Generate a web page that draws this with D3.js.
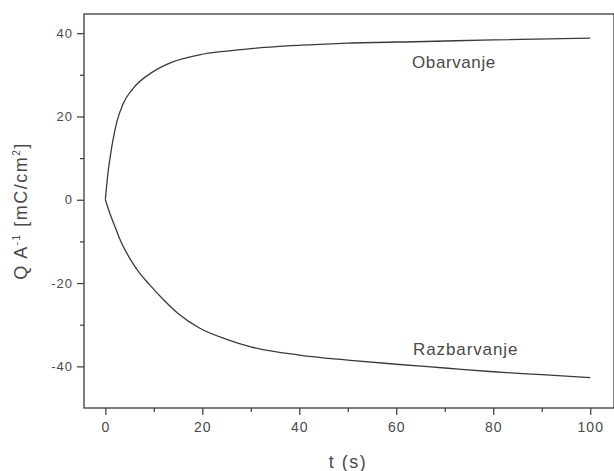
<!DOCTYPE html>
<html>
<head>
<meta charset="utf-8">
<script src="https://d3js.org/d3.v7.min.js"></script>
<style>
  body { margin: 0; background: #fff; }
  text { font-family: "Liberation Sans", Arial, sans-serif; fill: #4a4a4a; }
</style>
</head>
<body>
<script>
// values
var tObar = [0, 0.5, 1.1, 2.4, 3.6, 5.7, 9.8, 13.9, 19.4, 25, 30, 42, 50, 66, 80, 100];
var qObar = [0, 6, 11, 18.8, 22.9, 26.7, 30.7, 33.1, 34.8, 35.7, 36.3, 37.2, 37.6, 38, 38.4, 38.8];
var tRaz = [0, 1, 2, 3, 5, 7, 9.2, 12, 15, 19.4, 25, 30, 40, 50, 60, 70, 80, 90, 100];
var qRaz = [0, -3.5, -6.5, -9.5, -14, -17.5, -20.5, -24, -27.3, -30.8, -33.5, -35.3, -37.3, -38.5, -39.5, -40.4, -41.3, -42, -42.7];
var xTicks = [0, 20, 40, 60, 80, 100];
var yTicks = [-40, -20, 0, 20, 40];

var width = 614, height = 471
var margin = {top: 14, left: 84, bottom: 63, right: 0}

var svg = d3.select("body").append("svg")
  .attr("width", width)
  .attr("height", height)

var xMin = -4.4, xMax = 104.9, yMin = -50, yMax = 44.6
var x = d3.scaleLinear().domain([xMin, xMax]).range([margin.left, width - margin.right])
var y = d3.scaleLinear().domain([yMin, yMax]).range([height - margin.bottom, margin.top])

var ink = "#3a3a3a"

// frame
svg.append("rect")
  .attr("x", x(xMin)).attr("y", y(yMax))
  .attr("width", x(xMax) - x(xMin)).attr("height", y(yMin) - y(yMax))
  .attr("fill", "none").attr("stroke", ink).attr("stroke-width", 1.3)

var fmt = function(d) { return String(d) }   // plain hyphen for negatives

// x axis
var xAxis = svg.append("g")
  .attr("transform", "translate(0," + y(yMin) + ")")
  .call(d3.axisBottom(x).tickValues(xTicks).tickSize(7).tickPadding(7).tickFormat(fmt))
xAxis.append("g").call(d3.axisBottom(x).tickValues([10, 30, 50, 70, 90]).tickSize(4).tickFormat(""))
xAxis.selectAll(".tick text").style("font-size", "14px").style("letter-spacing", "1px")

// y axis
var yAxis = svg.append("g")
  .attr("transform", "translate(" + x(xMin) + ",0)")
  .call(d3.axisLeft(y).tickValues(yTicks).tickSize(7).tickPadding(4).tickFormat(fmt))
yAxis.append("g").call(d3.axisLeft(y).tickValues([-30, -10, 10, 30]).tickSize(4).tickFormat(""))
yAxis.selectAll(".tick text").style("font-size", "13px").style("letter-spacing", "1px")

svg.selectAll(".domain").remove()
svg.selectAll(".tick line").attr("stroke", ink).attr("stroke-width", 1.2)
svg.selectAll(".tick text").attr("fill", "#4a4a4a")

// curves
var line = d3.line().curve(d3.curveMonotoneX)
  .x(function(d) { return x(d[0]) })
  .y(function(d) { return y(d[1]) })

svg.append("path")
  .datum(d3.zip(tObar, qObar))
  .attr("d", line)
  .attr("fill", "none").attr("stroke", ink).attr("stroke-width", 1.3)

svg.append("path")
  .datum(d3.zip(tRaz, qRaz))
  .attr("d", line)
  .attr("fill", "none").attr("stroke", ink).attr("stroke-width", 1.3)

// labels
svg.append("text").attr("x", 412).attr("y", 68)
  .style("font-size", "17px").style("letter-spacing", "0.6px").text("Obarvanje")
svg.append("text").attr("x", 413).attr("y", 355)
  .style("font-size", "17px").style("letter-spacing", "0.9px").text("Razbarvanje")

svg.append("text")
  .attr("x", 348).attr("y", 468)
  .attr("text-anchor", "middle")
  .style("font-size", "18px").style("letter-spacing", "1.5px")
  .text("t (s)")

var yl = svg.append("text")
  .attr("transform", "translate(27,211) rotate(-90)")
  .attr("text-anchor", "middle")
  .style("font-size", "18px").style("letter-spacing", "1.5px")
yl.append("tspan").text("Q A")
yl.append("tspan").attr("dy", -7).style("font-size", "10px").text("-1")
yl.append("tspan").attr("dy", 7).text(" [mC/cm")
yl.append("tspan").attr("dy", -7).style("font-size", "10px").text("2")
yl.append("tspan").attr("dy", 7).text("]")
</script>
</body>
</html>
